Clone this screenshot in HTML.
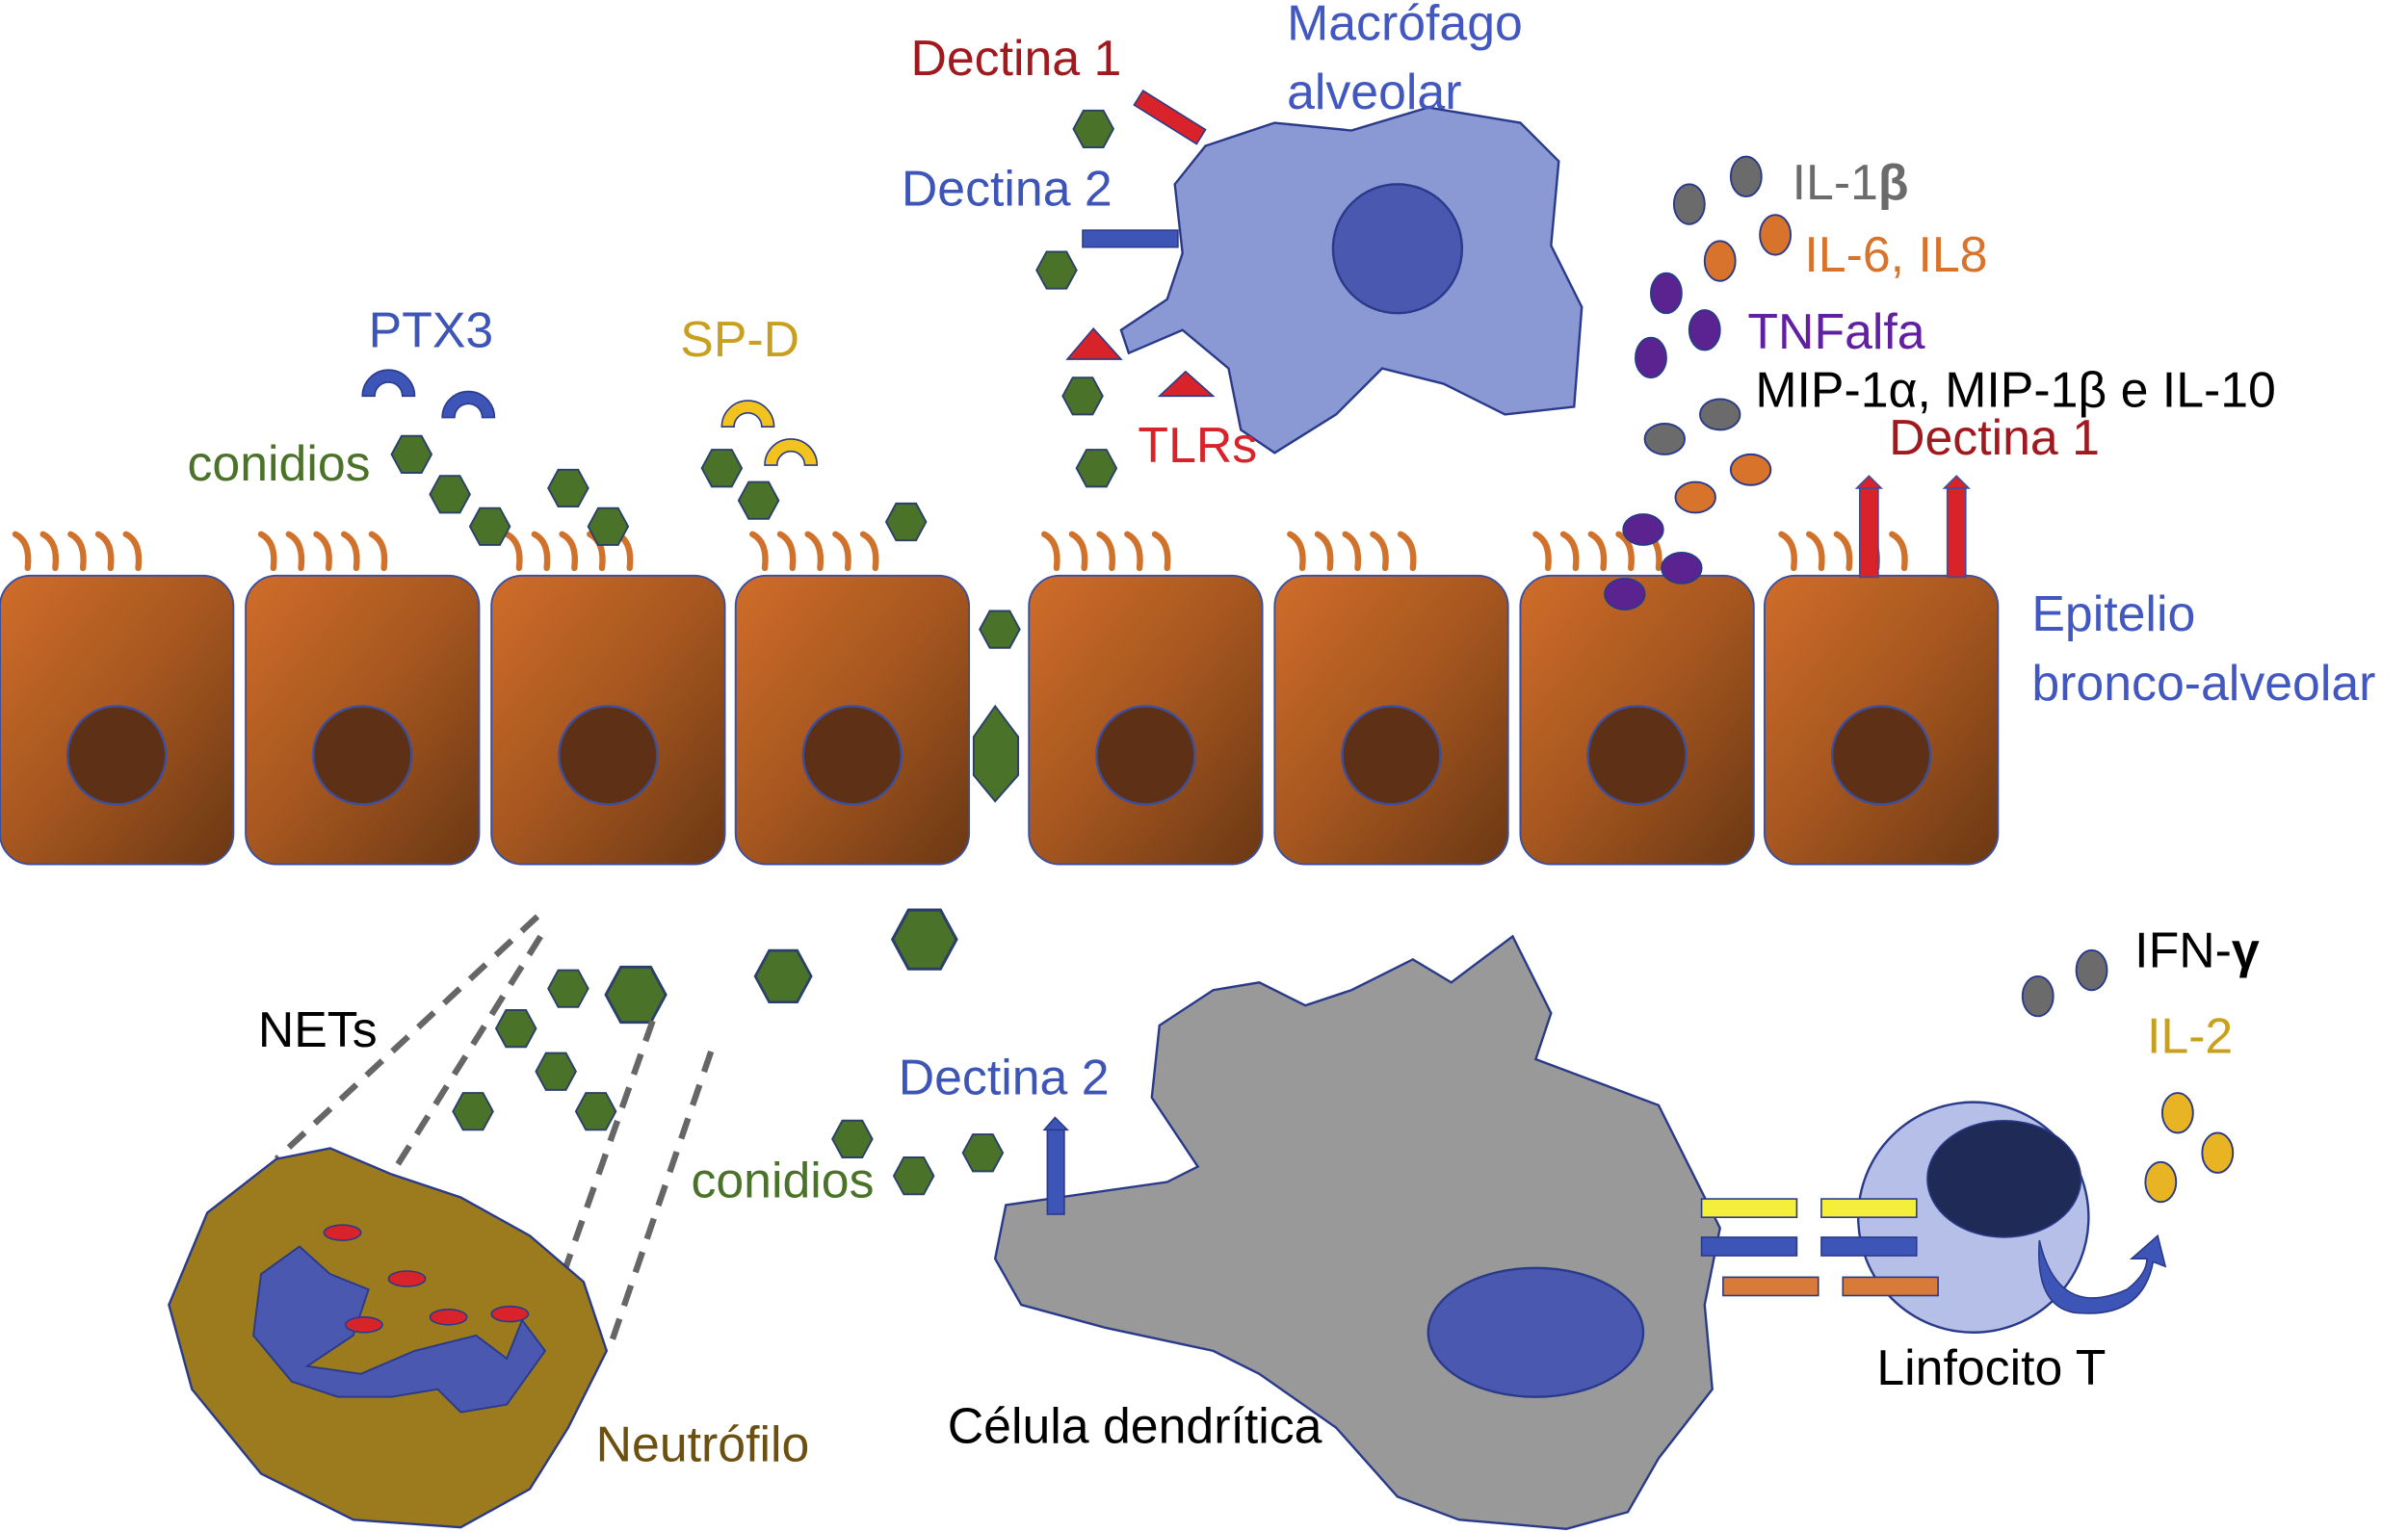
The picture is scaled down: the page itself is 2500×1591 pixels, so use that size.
<!DOCTYPE html>
<html><head><meta charset="utf-8"><style>html,body{margin:0;padding:0;background:#fff}svg{display:block}text{font-family:"Liberation Sans",sans-serif}</style></head><body>
<svg width="2500" height="1591" viewBox="0 0 1568 998" preserveAspectRatio="none" xmlns="http://www.w3.org/2000/svg">
<defs>
<linearGradient id="cg" x1="0" y1="0" x2="1" y2="1"><stop offset="0" stop-color="#d06d2a"/><stop offset="0.5" stop-color="#a5561f"/><stop offset="1" stop-color="#6a3814"/></linearGradient>
<g id="hx"><polygon points="-13,0 -6.5,-12 6.5,-12 13,0 6.5,12 -6.5,12" fill="#4b7229" stroke="#2a3f6a" stroke-width="1.2"/></g>
<g id="cell"><rect x="0" y="0" width="152" height="188" rx="20" fill="url(#cg)" stroke="#3b4fa0" stroke-width="1.2"/><circle cx="76" cy="117" r="32" fill="#5e3015" stroke="#3b4fa0" stroke-width="1.5"/></g>
<g id="cil" fill="none" stroke="#d0722c" stroke-width="4" stroke-linecap="round"><path d="M0,22 Q2,5 -8,0"/><path d="M18,22 Q20,5 10,0"/><path d="M36,22 Q38,5 28,0"/><path d="M54,22 Q56,5 46,0"/><path d="M72,22 Q74,5 64,0"/></g>
</defs>
<rect width="1568" height="998" fill="#fff"/>
<use href="#cil" x="18" y="348"/><use href="#cil" x="178" y="348"/><use href="#cil" x="338" y="348"/><use href="#cil" x="498" y="348"/><use href="#cil" x="688" y="348"/><use href="#cil" x="848" y="348"/><use href="#cil" x="1008" y="348"/><use href="#cil" x="1168" y="348"/>
<use href="#cell" x="0" y="375"/><use href="#cell" x="160" y="375"/><use href="#cell" x="320" y="375"/><use href="#cell" x="479" y="375"/><use href="#cell" x="670" y="375"/><use href="#cell" x="830" y="375"/><use href="#cell" x="990" y="375"/><use href="#cell" x="1149" y="375"/>
<rect x="1211" y="318" width="12" height="58" fill="#d8232a" stroke="#3b4fa0"/><polygon points="1209,318 1217,310 1225,318" fill="#d8232a" stroke="#3b4fa0"/>
<rect x="1268" y="318" width="12" height="58" fill="#d8232a" stroke="#3b4fa0"/><polygon points="1266,318 1274,310 1282,318" fill="#d8232a" stroke="#3b4fa0"/>
<path d="M785,95 L830,80 L880,85 L930,70 L990,80 L1015,105 L1010,160 L1030,200 L1025,265 L980,270 L940,250 L900,240 L870,270 L830,295 L808,280 L800,240 L770,215 L735,230 L730,215 L760,195 L770,165 L765,120 Z" fill="#8a98d4" stroke="#2a3a8a" stroke-width="1.5"/>
<circle cx="910" cy="162" r="42" fill="#4a58b0" stroke="#2a3a8a" stroke-width="1.5"/>
<rect x="738" y="71" width="48" height="11" fill="#d8232a" stroke="#2a3a8a" transform="rotate(32 762 76)"/>
<rect x="705" y="150" width="62" height="11" fill="#3e55b8" stroke="#2a3a8a"/>
<polygon points="695,234 712,214 730,234" fill="#d8232a" stroke="#2a3a8a"/>
<polygon points="755,258 772,242 790,258" fill="#d8232a" stroke="#2a3a8a"/>
<use href="#hx" x="712" y="84"/><use href="#hx" x="688" y="176"/><use href="#hx" x="705" y="258"/><use href="#hx" x="714" y="305"/>
<use href="#hx" x="268" y="296"/><use href="#hx" x="293" y="322"/><use href="#hx" x="319" y="343"/><use href="#hx" x="370" y="318"/><use href="#hx" x="396" y="343"/>
<use href="#hx" x="470" y="305"/><use href="#hx" x="494" y="326"/><use href="#hx" x="590" y="340"/>
<use href="#hx" x="651" y="410"/>
<polygon points="648,460 663,480 663,505 648,522 634,505 634,480" fill="#4b7229" stroke="#2a3f6a" stroke-width="1.2"/>
<g transform="translate(602,612) scale(1.6)"><use href="#hx"/></g>
<g transform="translate(510,636) scale(1.4)"><use href="#hx"/></g>
<g transform="translate(414,648) scale(1.5)"><use href="#hx"/></g>
<use href="#hx" x="370" y="644"/><use href="#hx" x="336" y="670"/><use href="#hx" x="362" y="698"/><use href="#hx" x="388" y="724"/><use href="#hx" x="308" y="724"/>
<use href="#hx" x="555" y="742"/><use href="#hx" x="595" y="766"/><use href="#hx" x="640" y="751"/>
<path d="M236,258 A17,17 0 0 1 270,258 L262,258 A9,9 0 0 0 244,258 Z" fill="#3e55b8" stroke="#2a3a8a"/>
<path d="M288,272 A17,17 0 0 1 322,272 L314,272 A9,9 0 0 0 296,272 Z" fill="#3e55b8" stroke="#2a3a8a"/>
<path d="M470,278 A17,17 0 0 1 504,278 L496,278 A9,9 0 0 0 478,278 Z" fill="#f2c21f" stroke="#2a3a8a"/>
<path d="M498,303 A17,17 0 0 1 532,303 L524,303 A9,9 0 0 0 506,303 Z" fill="#f2c21f" stroke="#2a3a8a"/>
<g stroke="#2a3a8a" stroke-width="1.2">
<ellipse cx="1137" cy="115" rx="10" ry="13" fill="#6b6b6b"/><ellipse cx="1100" cy="133" rx="10" ry="13" fill="#6b6b6b"/>
<ellipse cx="1156" cy="153" rx="10" ry="13" fill="#d8732c"/><ellipse cx="1120" cy="170" rx="10" ry="13" fill="#d8732c"/>
<ellipse cx="1085" cy="191" rx="10" ry="13" fill="#5a2390"/><ellipse cx="1110" cy="215" rx="10" ry="13" fill="#5a2390"/><ellipse cx="1075" cy="233" rx="10" ry="13" fill="#5a2390"/>
<ellipse cx="1120" cy="270" rx="13" ry="10" fill="#6b6b6b"/><ellipse cx="1084" cy="286" rx="13" ry="10" fill="#6b6b6b"/>
<ellipse cx="1140" cy="306" rx="13" ry="10" fill="#d8732c"/><ellipse cx="1104" cy="324" rx="13" ry="10" fill="#d8732c"/>
<ellipse cx="1070" cy="345" rx="13" ry="10" fill="#5a2390"/><ellipse cx="1095" cy="370" rx="13" ry="10" fill="#5a2390"/><ellipse cx="1058" cy="387" rx="13" ry="10" fill="#5a2390"/>
<ellipse cx="1327" cy="649" rx="10" ry="13" fill="#6b6b6b"/><ellipse cx="1362" cy="632" rx="10" ry="13" fill="#6b6b6b"/>
<ellipse cx="1418" cy="725" rx="10" ry="13" fill="#e8b424"/><ellipse cx="1444" cy="751" rx="10" ry="13" fill="#e8b424"/><ellipse cx="1407" cy="770" rx="10" ry="13" fill="#e8b424"/>
</g>
<g stroke="#666" stroke-width="4" stroke-dasharray="14,9" fill="none">
<line x1="350" y1="597" x2="180" y2="755"/><line x1="352" y1="610" x2="255" y2="765"/><line x1="425" y1="665" x2="357" y2="858"/><line x1="463" y1="685" x2="398" y2="875"/>
</g>
<path d="M180,755 L215,748 L255,765 L300,780 L345,805 L380,835 L395,880 L370,930 L345,970 L300,995 L230,990 L170,960 L125,905 L110,850 L135,790 Z" fill="#9b7b1d" stroke="#2a3a8a" stroke-width="1.5"/>
<path d="M170,830 L195,812 L215,830 L240,840 L230,870 L200,890 L235,895 L270,880 L310,870 L330,885 L340,860 L355,880 L330,915 L300,920 L285,905 L255,910 L220,910 L190,900 L165,870 Z" fill="#4a58b0" stroke="#2a3a8a" stroke-width="1.2"/>
<g fill="#d8232a" stroke="#2a3a8a"><ellipse cx="223" cy="803" rx="12" ry="5"/><ellipse cx="265" cy="833" rx="12" ry="5"/><ellipse cx="237" cy="863" rx="12" ry="5"/><ellipse cx="292" cy="858" rx="12" ry="5"/><ellipse cx="332" cy="856" rx="12" ry="5"/></g>
<path d="M655,785 L760,770 L780,760 L750,715 L755,668 L790,645 L820,640 L850,655 L880,645 L920,625 L945,640 L985,610 L1010,660 L1000,690 L1040,705 L1080,720 L1100,760 L1120,800 L1110,850 L1115,905 L1080,950 L1060,985 L1020,996 L950,990 L910,975 L870,930 L820,895 L790,880 L720,865 L665,850 L648,820 Z" fill="#999" stroke="#2a3a8a" stroke-width="1.5"/>
<ellipse cx="1000" cy="868" rx="70" ry="42" fill="#4a58b0" stroke="#2a3a8a" stroke-width="1.5"/>
<rect x="682" y="735" width="11" height="56" fill="#3e55b8" stroke="#2a3a8a"/><polygon points="680,736 687,728 695,736" fill="#3e55b8" stroke="#2a3a8a"/>
<circle cx="1285" cy="793" r="75" fill="#b6bfe8" stroke="#2a3a8a" stroke-width="1.5"/>
<ellipse cx="1305" cy="768" rx="50" ry="38" fill="#1f2a56" stroke="#2a3a8a"/>
<path d="M1328,808 Q1340,860 1385,840 Q1398,830 1398,820 L1388,820 L1405,805 L1410,825 L1402,822 Q1395,860 1350,855 Q1325,850 1328,808 Z" fill="#3e55b8" stroke="#2a3a8a"/>
<g stroke="#2a3a8a"><rect x="1108" y="781" width="62" height="12" fill="#f3ef3a"/><rect x="1186" y="781" width="62" height="12" fill="#f3ef3a"/>
<rect x="1108" y="806" width="62" height="12" fill="#3e55b8"/><rect x="1186" y="806" width="62" height="12" fill="#3e55b8"/>
<rect x="1122" y="832" width="62" height="12" fill="#d87a3a"/><rect x="1200" y="832" width="62" height="12" fill="#d87a3a"/></g>
<g font-size="32.5">
<text x="593" y="49" fill="#a0191f">Dectina 1</text>
<text x="838" y="26" fill="#4258c0">Macrófago</text>
<text x="838" y="71" fill="#4258c0">alveolar</text>
<text x="587" y="134" fill="#3e55b8">Dectina 2</text>
<text x="741" y="301" fill="#d8232a">TLRs</text>
<text x="240" y="226" fill="#3e55b8">PTX3</text>
<text x="443" y="232" fill="#c9a01e">SP-D</text>
<text x="122" y="313" fill="#4b7229">conidios</text>
<text x="1167" y="130" fill="#6b6b6b">IL-1<tspan font-weight="bold">β</tspan></text>
<text x="1175" y="177" fill="#d8732c">IL-6, IL8</text>
<text x="1138" y="227" fill="#6020a0">TNFalfa</text>
<text x="1143" y="265" fill="#000">MIP-1α, MIP-1β e IL-10</text>
<text x="1230" y="296" fill="#a0191f">Dectina 1</text>
<text x="1323" y="411" fill="#4258c0">Epitelio</text>
<text x="1323" y="456" fill="#4258c0">bronco-alveolar</text>
<text x="168" y="682" fill="#000">NETs</text>
<text x="585" y="713" fill="#3e55b8">Dectina 2</text>
<text x="450" y="780" fill="#4b7229">conidios</text>
<text x="1390" y="630" fill="#000">IFN-<tspan font-weight="bold">γ</tspan></text>
<text x="1398" y="686" fill="#c9a01e">IL-2</text>
<text x="1222" y="902" fill="#000">Linfocito T</text>
<text x="617" y="940" fill="#000">Célula dendrítica</text>
<text x="388" y="952" fill="#6b5010">Neutrófilo</text>
</g>
</svg>
</body></html>
